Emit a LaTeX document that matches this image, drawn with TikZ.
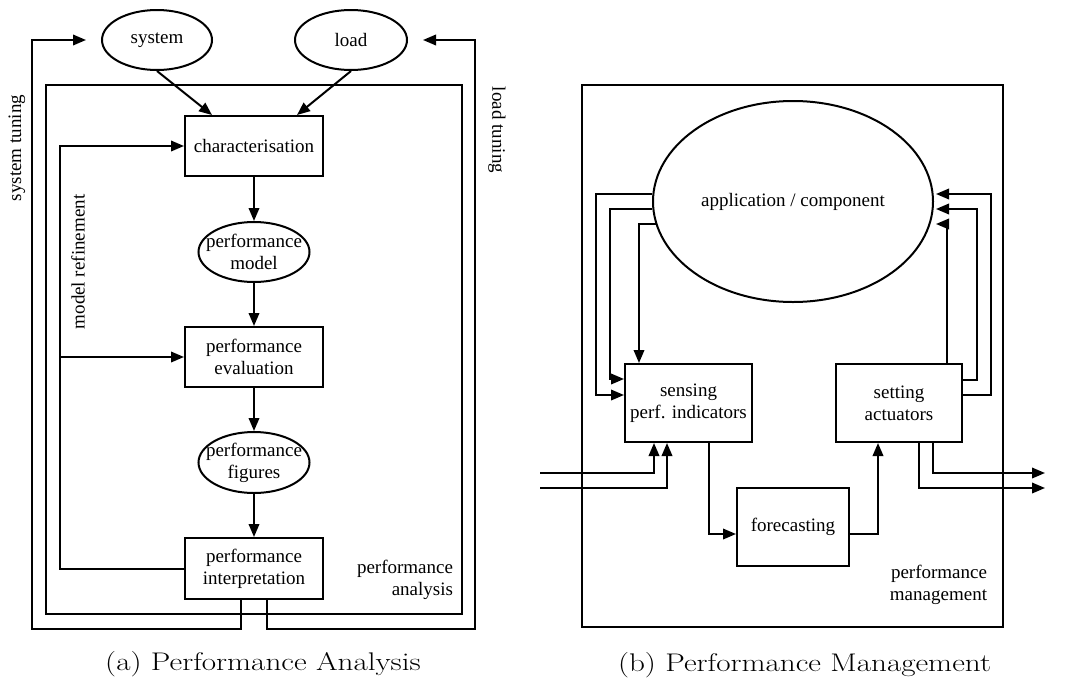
\documentclass[tikz,border=0pt]{standalone}
\usepackage{fontspec}
\setmainfont{Latin Modern Roman}
\newfontfamily\tms{Liberation Serif}
\usetikzlibrary{arrows.meta,shapes.geometric}
\begin{document}
\begin{tikzpicture}[x=1pt,y=-1pt,
  line width=2pt,
  every node/.style={font=\tms\fontsize{19}{22}\selectfont, inner sep=0pt},
  box/.style={draw, rectangle, line width=2pt},
  ell/.style={draw, ellipse, line width=2pt},
  arr/.style={-{Triangle[length=13pt,width=10.5pt]}},
  rlabel/.style={align=right, anchor=north east},
  captxt/.style={font=\fontsize{25.5}{30}\selectfont, anchor=base, transform shape, xscale=1.22}
]
\useasboundingbox (0,0) rectangle (1086,699);

% ---------- (a) Performance Analysis ----------
\node[box, minimum width=416, minimum height=529] (pa) at (254,349.5) {};
\node[ell, minimum width=110, minimum height=60] (sys) at (157,40) {system};
\node[ell, minimum width=112, minimum height=60] (load) at (351,40) {load};
\node[box, minimum width=138, minimum height=60] (char) at (254,146) {characterisation};
\node[ell, minimum width=111, minimum height=60,
      label={[align=center]center:performance\\model}] (pmod) at (254,252) {};
\node[box, minimum width=138, minimum height=60, align=center] (eval) at (254,357) {performance\\evaluation};
\node[ell, minimum width=111, minimum height=61,
      label={[align=center]center:performance\\figures}] (pfig) at (254,462.5) {};
\node[box, minimum width=138, minimum height=61, align=center] (interp) at (254,568.5) {performance\\interpretation};
\node[rlabel] (palbl) at (454,559) {performance\\analysis};

\node[rotate=90] (st) at (17,148) {system tuning};
\node[rotate=-90] (lt) at (497,130) {load tuning};
\node[rotate=90] (mr) at (78,262) {model refinement};

\draw[arr] (sys.south) -- ([xshift=-42pt]char.north);
\draw[arr] (load.south) -- ([xshift=43pt]char.north);
\draw[arr] (char) -- (pmod);
\draw[arr] (pmod) -- (eval);
\draw[arr] (eval) -- (pfig);
\draw[arr] (pfig) -- (interp);

\coordinate (mrtop) at (60,146);
\coordinate (mrmid) at (60,357);
\draw[arr] (interp.west) -| (mrtop) -- (char.west);
\draw[arr] (mrmid) -- (eval.west);

\coordinate (stc) at (32,629);
\coordinate (ltc) at (475,629);
\draw[arr] ([xshift=-13pt]interp.south) |- (stc) |- ([xshift=-15pt]sys.west);
\draw[arr] ([xshift=13pt]interp.south) |- (ltc) |- ([xshift=15pt]load.east);

\node[captxt] (capa) at (263,670) {(a) Performance Analysis};

% ---------- (b) Performance Management ----------
\node[box, minimum width=421, minimum height=542] (pm) at (792.5,356) {};
\node[ell, minimum width=280, minimum height=201] (app) at (793,201.5) {application / component};
\node[box, minimum width=127, minimum height=78, align=center] (sens) at (688.5,403) {sensing\\perf. indicators};
\node[box, minimum width=126, minimum height=78, align=center] (set) at (899,403) {setting\\actuators};
\node[box, minimum width=112, minimum height=78] (fc) at (793,527) {forecasting};
\node[rlabel] (pmlbl) at (988,564) {performance\\management};

% left feedback from application
\draw[arr] ([yshift=7.5pt]app.west) -| ([xshift=-28pt,yshift=8pt]sens.west) -- ([yshift=8pt]sens.west);
\draw[arr] ([yshift=-7.5pt]app.west) -| ([xshift=-14pt,yshift=24pt]sens.west) -- ([yshift=24pt]sens.west);
\draw[arr] ([xshift=3.5pt,yshift=-22.5pt]app.west) -| ([xshift=-49.5pt]sens.north);

% right feedback to application
\draw[arr] ([yshift=8pt]set.east) -| ([xshift=57pt,yshift=7.5pt]app.east) -- ([xshift=2pt,yshift=7.5pt]app.east);
\draw[arr] ([yshift=23pt]set.east) -| ([xshift=43pt,yshift=-7.5pt]app.east) -- ([xshift=2pt,yshift=-7.5pt]app.east);
\draw[arr] ([xshift=48pt]set.north) |- ([xshift=2pt,yshift=-22.5pt]app.east);

% internal chain
\draw[arr] ([xshift=20.5pt]sens.south) |- ([yshift=-7pt]fc.west);
\draw[arr] ([yshift=-7pt]fc.east) -| ([xshift=-21pt]set.south);

% inputs and outputs
\coordinate (in1) at (540,473);
\coordinate (in2) at (540,488);
\coordinate (out1) at (1045,473);
\coordinate (out2) at (1045,488);
\draw[arr] (in1) -| ([xshift=-34.5pt]sens.south);
\draw[arr] (in2) -| ([xshift=-21.5pt]sens.south);
\draw[arr] ([xshift=34pt]set.south) |- (out1);
\draw[arr] ([xshift=20pt]set.south) |- (out2);

\node[captxt] (capb) at (804.5,671) {(b) Performance Management};
\end{tikzpicture}
\end{document}
